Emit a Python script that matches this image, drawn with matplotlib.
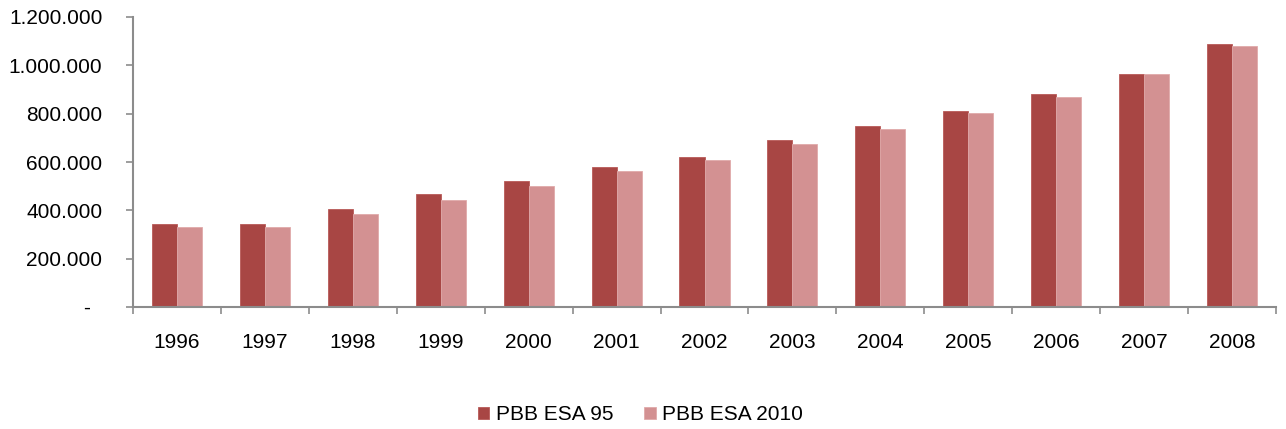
import matplotlib
matplotlib.use("Agg")
import matplotlib.pyplot as plt
import numpy as np

years = ["1996", "1997", "1998", "1999", "2000", "2001", "2002",
         "2003", "2004", "2005", "2006", "2007", "2008"]
esa95 = [345000, 345000, 407000, 469000, 520000, 581000, 621000,
         693000, 749000, 813000, 880000, 966000, 1087000]
esa2010 = [333000, 329000, 384000, 441000, 499000, 561000, 607000,
           674000, 735000, 803000, 871000, 963000, 1079000]
series_names = ["PBB ESA 95", "PBB ESA 2010"]
yticks = [0, 200000, 400000, 600000, 800000, 1000000, 1200000]
ytick_labels = ["-  ", "200.000", "400.000", "600.000", "800.000", "1.000.000", "1.200.000"]

plt.rcParams['font.family'] = ['Liberation Sans', 'DejaVu Sans']

fig = plt.figure(figsize=(12.86, 4.29), dpi=100)
ax = fig.add_axes([133/1286, 1 - 307/429, (1276-133)/1286, (307-17)/429])

x = np.arange(len(years))
w = 0.285
c1 = "#A84644"
c2 = "#D39192"
ax.bar(x - w/2, esa95, w, color=c1, edgecolor="#B85a58", linewidth=0.6, label=series_names[0])
ax.bar(x + w/2, esa2010, w, color=c2, edgecolor="#E0AAAA", linewidth=0.6, label=series_names[1])

ax.set_xlim(-0.5, len(years) - 0.5)
ax.set_ylim(0, 1200000)

spine_c = "#8C8C8C"
for s in ["top", "right"]:
    ax.spines[s].set_visible(False)
for s in ["left", "bottom"]:
    ax.spines[s].set_color(spine_c)
    ax.spines[s].set_linewidth(1.5)

ax.set_yticks(yticks)
ax.set_yticklabels(ytick_labels)
ax.tick_params(axis="y", length=5, width=1.2, color=spine_c, direction="out", pad=17, labelsize=15)

ax.set_xticks(np.arange(-0.5, len(years), 1.0), minor=False)
ax.set_xticklabels([])
ax.tick_params(axis="x", which="major", length=5, width=1.2, color=spine_c, direction="out")
ax.set_xticks(x, minor=True)
ax.set_xticklabels(years, minor=True)
ax.tick_params(axis="x", which="minor", length=0, pad=19, labelsize=15)

fig.legend(loc="center", bbox_to_anchor=(0.498, 1 - 415/429), ncol=2, frameon=False,
           fontsize=15, handlelength=0.55, handleheight=0.55, handletextpad=0.3,
           columnspacing=1.5)

fig.savefig("out.png", dpi=100, facecolor="white")
